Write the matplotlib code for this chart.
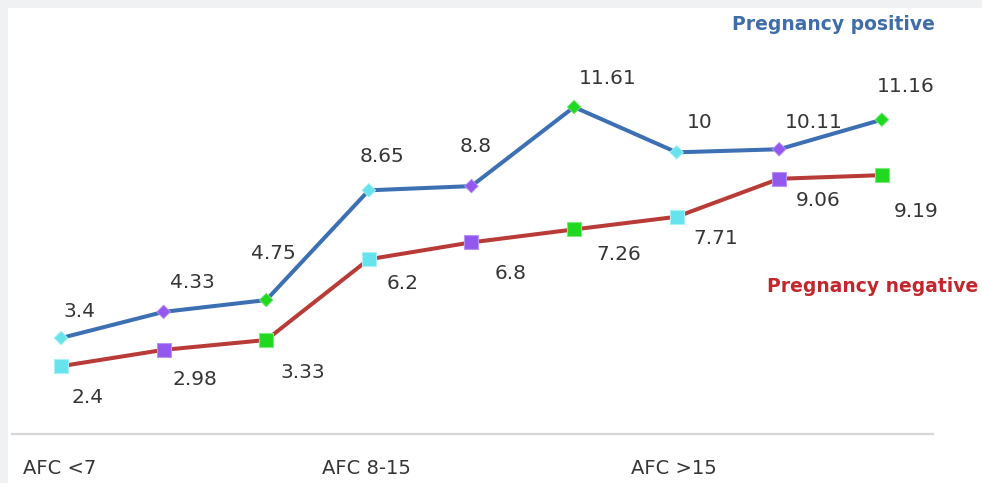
import matplotlib
matplotlib.use("Agg")
import matplotlib.pyplot as plt
from matplotlib.patches import Rectangle
from matplotlib.transforms import blended_transform_factory

# ---- data ----
groups = ["AFC <7", "AFC 8-15", "AFC >15"]
positive = [3.4, 4.33, 4.75, 8.65, 8.8, 11.61, 10, 10.11, 11.16]
negative = [2.4, 2.98, 3.33, 6.2, 6.8, 7.26, 7.71, 9.06, 9.19]
pos_labels = ["3.4", "4.33", "4.75", "8.65", "8.8", "11.61", "10", "10.11", "11.16"]
neg_labels = ["2.4", "2.98", "3.33", "6.2", "6.8", "7.26", "7.71", "9.06", "9.19"]
series_names = ["Pregnancy positive", "Pregnancy negative"]

# ---- layout / style ----
W, H = 982, 483
marker_cycle = ["#66E3EC", "#9358EE", "#1FD81F"]
marker_edge = ["#A8F0F4", "#B894F2", "#7EE87E"]
blue = "#3D6FB3"
red = "#B93B38"
txt = "#353535"
# label offsets in pixels (dx, dy downward)
pos_off = [(18, -27), (29, -29), (7, -47), (13, -34), (4, -40), (34, -29), (23, -30), (35, -27), (24, -33)]
neg_off = [(27, 31), (31, 30), (37, 32), (34, 24), (39, 31), (45, 25), (39, 22), (39, 22), (34, 36)]
group_start = [-0.37, 2.54, 5.56]

fig = plt.figure(figsize=(W / 100, H / 100), dpi=100)
fig.patch.set_facecolor("white")
# light grey frame strips
fig.patches.append(Rectangle((0, 1 - 8 / H), 1, 8 / H, transform=fig.transFigure,
                             facecolor="#F0F1F3", edgecolor="none", zorder=0))
fig.patches.append(Rectangle((0, 0), 8 / W, 1, transform=fig.transFigure,
                             facecolor="#F0F1F3", edgecolor="none", zorder=0))

ax = fig.add_axes([12 / W, (H - 433.7) / H, 921 / W, 425.7 / H])
ax.set_facecolor("none")
x = list(range(len(positive)))
ax.set_xlim(-0.478, 8.499)
ax.set_ylim(0, 15.13)

for s in ["top", "right", "left"]:
    ax.spines[s].set_visible(False)
ax.spines["bottom"].set_color("#D6D6D6")
ax.spines["bottom"].set_linewidth(1.6)
ax.set_xticks([])
ax.set_yticks([])

ax.plot(x, positive, color=blue, lw=2.9, zorder=2, solid_capstyle="round")
ax.plot(x, negative, color=red, lw=2.9, zorder=2, solid_capstyle="round")

cols = [marker_cycle[i % 3] for i in x]
ecols = [marker_edge[i % 3] for i in x]
ax.scatter(x, positive, marker="D", s=48, c=cols, edgecolors=ecols, linewidths=0.6, zorder=3)
ax.scatter(x, negative, marker="s", s=100, c=cols, edgecolors=ecols, linewidths=0.8, zorder=3)

px2pt = 72 / 100
for i in x:
    dx, dy = pos_off[i]
    ax.annotate(pos_labels[i], (x[i], positive[i]), xytext=(dx * px2pt, -dy * px2pt),
                textcoords="offset points", ha="center", va="center",
                fontsize=14.5, color=txt, annotation_clip=False)
    dx, dy = neg_off[i]
    ax.annotate(neg_labels[i], (x[i], negative[i]), xytext=(dx * px2pt, -dy * px2pt),
                textcoords="offset points", ha="center", va="center",
                fontsize=14.5, color=txt, annotation_clip=False)

grp_tr = blended_transform_factory(ax.transData, fig.transFigure)
for g, xs in zip(groups, group_start):
    ax.text(xs, (H - 469) / H, g, transform=grp_tr, ha="left", va="center",
            fontsize=14, color=txt, clip_on=False)

fig.text(935 / W, (H - 24) / H, series_names[0], ha="right", va="center",
         fontsize=13.5, fontweight="bold", color="#3E6DAA")
fig.text(978 / W, (H - 286) / H, series_names[1], ha="right", va="center",
         fontsize=13.5, fontweight="bold", color="#C1272D")

fig.savefig("out.png", dpi=100, facecolor="white")
